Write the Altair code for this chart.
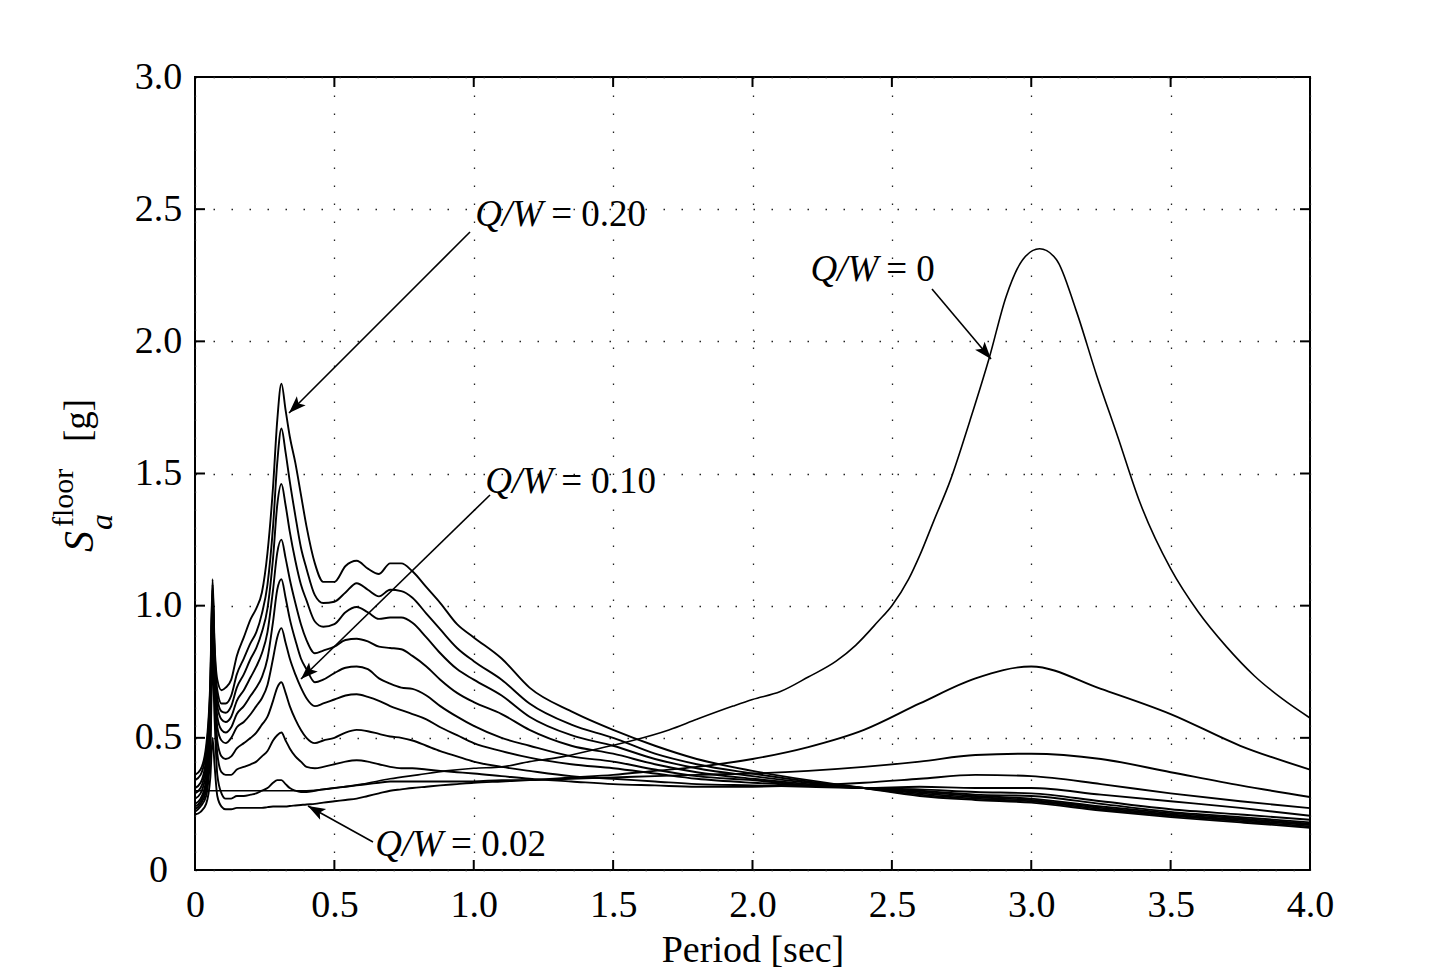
import math
import altair as alt
import pandas as pd

# ---------------- data ----------------
T = [0.0, 0.02, 0.04, 0.055, 0.063, 0.07, 0.08, 0.095, 0.11, 0.13, 0.15, 0.175, 0.2, 0.22,
     0.24, 0.26, 0.28, 0.295, 0.31, 0.325, 0.34, 0.36, 0.38, 0.40, 0.43, 0.46, 0.50, 0.54,
     0.58, 0.62, 0.66, 0.70, 0.74, 0.78, 0.83, 0.88, 0.94, 1.0, 1.1, 1.2, 1.35, 1.5, 1.65,
     1.8, 2.0, 2.2, 2.4, 2.6, 2.8, 3.0, 3.25, 3.5, 3.75, 4.0]

qw020 = [0.36, 0.38, 0.47, 0.72, 1.10, 0.86, 0.72, 0.68, 0.69, 0.72, 0.81, 0.88, 0.95, 0.99,
         1.05, 1.20, 1.45, 1.70, 1.84, 1.74, 1.64, 1.54, 1.42, 1.30, 1.16, 1.09, 1.09, 1.15,
         1.17, 1.14, 1.12, 1.16, 1.16, 1.13, 1.07, 1.01, 0.93, 0.88, 0.80, 0.69, 0.60, 0.53,
         0.47, 0.42, 0.375, 0.34, 0.31, 0.28, 0.265, 0.255, 0.225, 0.20, 0.18, 0.16]
qw018 = [0.34, 0.36, 0.45, 0.70, 1.08, 0.84, 0.68, 0.63, 0.63, 0.66, 0.74, 0.80, 0.86, 0.90,
         0.97, 1.08, 1.30, 1.54, 1.67, 1.58, 1.47, 1.34, 1.22, 1.14, 1.04, 1.01, 1.015, 1.05,
         1.085, 1.06, 1.035, 1.06, 1.055, 1.03, 0.97, 0.91, 0.84, 0.79, 0.72, 0.63, 0.55, 0.50,
         0.44, 0.40, 0.365, 0.335, 0.31, 0.285, 0.27, 0.26, 0.23, 0.205, 0.185, 0.165]
qw016 = [0.31, 0.33, 0.42, 0.68, 1.06, 0.82, 0.65, 0.60, 0.595, 0.62, 0.69, 0.74, 0.80, 0.84,
         0.90, 0.99, 1.18, 1.38, 1.46, 1.38, 1.28, 1.17, 1.08, 1.02, 0.94, 0.92, 0.93, 0.975,
         0.995, 0.975, 0.95, 0.955, 0.955, 0.935, 0.88, 0.82, 0.76, 0.72, 0.66, 0.58, 0.51, 0.47,
         0.42, 0.385, 0.355, 0.33, 0.31, 0.29, 0.275, 0.265, 0.235, 0.21, 0.19, 0.17]
qw014 = [0.29, 0.31, 0.40, 0.66, 1.04, 0.80, 0.62, 0.57, 0.56, 0.58, 0.64, 0.68, 0.73, 0.77,
         0.82, 0.90, 1.06, 1.20, 1.25, 1.18, 1.10, 1.01, 0.93, 0.87, 0.82, 0.83, 0.845, 0.87,
         0.875, 0.865, 0.845, 0.84, 0.835, 0.81, 0.77, 0.72, 0.67, 0.635, 0.59, 0.53, 0.47, 0.44,
         0.40, 0.37, 0.345, 0.325, 0.31, 0.295, 0.28, 0.27, 0.24, 0.215, 0.195, 0.175]
qw012 = [0.27, 0.29, 0.37, 0.62, 1.02, 0.78, 0.58, 0.53, 0.52, 0.54, 0.59, 0.62, 0.66, 0.69,
         0.73, 0.80, 0.94, 1.06, 1.10, 1.03, 0.95, 0.87, 0.80, 0.76, 0.71, 0.72, 0.745, 0.765,
         0.77, 0.76, 0.725, 0.705, 0.69, 0.685, 0.66, 0.62, 0.58, 0.545, 0.50, 0.47, 0.43, 0.41,
         0.38, 0.355, 0.34, 0.32, 0.31, 0.30, 0.285, 0.28, 0.25, 0.22, 0.20, 0.18]
qw010 = [0.25, 0.27, 0.34, 0.58, 0.98, 0.75, 0.54, 0.49, 0.48, 0.50, 0.54, 0.56, 0.59, 0.62,
         0.65, 0.70, 0.80, 0.88, 0.915, 0.86, 0.80, 0.74, 0.69, 0.65, 0.62, 0.63, 0.645, 0.66,
         0.665, 0.655, 0.64, 0.62, 0.605, 0.59, 0.57, 0.54, 0.51, 0.48, 0.45, 0.425, 0.40, 0.385,
         0.365, 0.345, 0.33, 0.32, 0.31, 0.305, 0.295, 0.29, 0.26, 0.23, 0.21, 0.19]
qw008 = [0.24, 0.26, 0.32, 0.55, 0.94, 0.71, 0.49, 0.43, 0.42, 0.43, 0.46, 0.48, 0.50, 0.52,
         0.55, 0.58, 0.64, 0.69, 0.71, 0.67, 0.62, 0.57, 0.53, 0.50, 0.48, 0.49, 0.50, 0.52,
         0.53, 0.525, 0.515, 0.505, 0.50, 0.49, 0.47, 0.45, 0.43, 0.41, 0.39, 0.375, 0.355, 0.345,
         0.335, 0.325, 0.32, 0.315, 0.31, 0.315, 0.31, 0.31, 0.285, 0.26, 0.235, 0.205]
qw006 = [0.23, 0.25, 0.30, 0.50, 0.88, 0.66, 0.44, 0.37, 0.36, 0.36, 0.38, 0.39, 0.40, 0.41,
         0.43, 0.45, 0.49, 0.51, 0.52, 0.49, 0.46, 0.43, 0.41, 0.39, 0.385, 0.39, 0.40, 0.41,
         0.415, 0.41, 0.40, 0.39, 0.385, 0.385, 0.38, 0.375, 0.37, 0.365, 0.355, 0.345, 0.335, 0.325,
         0.32, 0.315, 0.315, 0.32, 0.33, 0.345, 0.36, 0.355, 0.325, 0.29, 0.26, 0.234]
qw004 = [0.22, 0.24, 0.28, 0.45, 0.80, 0.58, 0.36, 0.29, 0.27, 0.27, 0.28, 0.28, 0.285, 0.29,
         0.30, 0.31, 0.33, 0.34, 0.34, 0.325, 0.31, 0.30, 0.295, 0.295, 0.30, 0.305, 0.31, 0.315,
         0.32, 0.325, 0.33, 0.335, 0.335, 0.335, 0.335, 0.335, 0.335, 0.335, 0.34, 0.34, 0.345, 0.35,
         0.355, 0.36, 0.365, 0.375, 0.39, 0.41, 0.435, 0.44, 0.42, 0.37, 0.32, 0.276]
qw002 = [0.21, 0.22, 0.25, 0.35, 0.50, 0.40, 0.28, 0.24, 0.23, 0.23, 0.235, 0.235, 0.235, 0.235,
         0.235, 0.238, 0.24, 0.24, 0.24, 0.24, 0.242, 0.244, 0.246, 0.248, 0.25, 0.255, 0.26, 0.265,
         0.27, 0.28, 0.29, 0.30, 0.305, 0.31, 0.315, 0.32, 0.325, 0.33, 0.335, 0.34, 0.35, 0.36,
         0.375, 0.39, 0.42, 0.465, 0.53, 0.63, 0.725, 0.77, 0.685, 0.59, 0.47, 0.38]

# Q/W = 0 curve (own period grid)
T0 = [0.0, 0.2, 0.4, 0.5, 0.6, 0.7, 0.8, 0.9, 1.0, 1.1, 1.2, 1.3, 1.45, 1.57, 1.7, 1.8, 1.93,
      2.0, 2.1, 2.2, 2.3, 2.37, 2.45, 2.5, 2.56, 2.6, 2.65, 2.71, 2.78, 2.85, 2.91, 2.97, 3.03,
      3.09, 3.16, 3.235, 3.31, 3.39, 3.5, 3.6, 3.7, 3.8, 3.9, 4.0]
qw000 = [0.30, 0.30, 0.30, 0.31, 0.325, 0.345, 0.36, 0.375, 0.385, 0.39, 0.41, 0.425, 0.46, 0.49,
         0.53, 0.57, 0.62, 0.645, 0.675, 0.73, 0.79, 0.85, 0.94, 1.0, 1.10, 1.19, 1.32, 1.475, 1.70,
         1.94, 2.17, 2.31, 2.35, 2.31, 2.12, 1.87, 1.64, 1.39, 1.14, 0.975, 0.845, 0.735, 0.648, 0.575]

x_ticks = [0, 0.5, 1.0, 1.5, 2.0, 2.5, 3.0, 3.5, 4.0]
y_ticks = [0, 0.5, 1.0, 1.5, 2.0, 2.5, 3.0]

# annotations: label value, arrow start (T, Sa), arrow tip (T, Sa), label anchor (T, Sa)
ann_value = ["= 0.20", "= 0.10", "= 0", "= 0.02"]
ann_x0 = [0.9865, 1.0583, 2.6439, 0.6386]
ann_y0 = [2.4137, 1.4187, 2.1980, 0.1059]
ann_x1 = [0.3372, 0.3803, 2.8556, 0.4054]
ann_y1 = [1.7289, 0.7226, 1.9332, 0.2421]
lab_x = [1.249, 1.285, 2.451, 0.890]
lab_y = [2.478, 1.468, 2.270, 0.0946]

# ---------------- layout ----------------
W, H = 1115, 793
XMAX, YMAX = 4.0, 3.0
FONT = "Liberation Serif"

rows = []
for name, vals in [("0.02", qw002), ("0.04", qw004), ("0.06", qw006), ("0.08", qw008),
                   ("0.10", qw010), ("0.12", qw012), ("0.14", qw014), ("0.16", qw016),
                   ("0.18", qw018), ("0.20", qw020)]:
    for t, v in zip(T, vals):
        rows.append({"qw": name, "T": t, "Sa": v})
df = pd.DataFrame(rows)
df0 = pd.DataFrame({"qw": "0", "T": T0, "Sa": qw000})

xs = alt.Scale(domain=[0, XMAX], nice=False, zero=False)
ys = alt.Scale(domain=[0, YMAX], nice=False, zero=False)

lab_expr = "datum.value == 0 ? '0' : format(datum.value, '.1f')"
x_axis = alt.Axis(values=x_ticks, labelExpr=lab_expr, labelFont=FONT, labelFontSize=38,
                  labelColor="black", labelPadding=16, labelFlush=False, ticks=False,
                  domain=False, grid=True, gridDash=[1.5, 16.5], gridColor="#222",
                  gridWidth=1.3, title="Period [sec]", titleFont=FONT, titleFontSize=38,
                  titleFontWeight="normal", titleColor="black", titlePadding=7)
y_axis = alt.Axis(values=y_ticks, labelExpr=lab_expr, labelFont=FONT, labelFontSize=38,
                  labelColor="black", labelPadding=37, labelAlign="center", ticks=False,
                  domain=False, grid=True, gridDash=[1.5, 16.5], gridColor="#222",
                  gridWidth=1.3, title=None)

curves = alt.Chart(df).mark_line(color="black", strokeWidth=1.9, interpolate="monotone").encode(
    x=alt.X("T:Q", scale=xs, axis=x_axis),
    y=alt.Y("Sa:Q", scale=ys, axis=y_axis),
    detail="qw:N",
)
curve0 = alt.Chart(df0).mark_line(color="black", strokeWidth=1.6, interpolate="monotone").encode(
    x=alt.X("T:Q", scale=xs), y=alt.Y("Sa:Q", scale=ys))

# inward ticks on all four sides
xt = pd.DataFrame({"v": x_ticks})
yt = pd.DataFrame({"v": y_ticks})
tick_len = 10
tb = alt.Chart(xt).mark_rule(color="black", strokeWidth=2).encode(
    x=alt.X("v:Q", scale=xs), y=alt.value(H), y2=alt.value(H - tick_len))
tt = alt.Chart(xt).mark_rule(color="black", strokeWidth=2).encode(
    x=alt.X("v:Q", scale=xs), y=alt.value(0), y2=alt.value(tick_len))
tl = alt.Chart(yt).mark_rule(color="black", strokeWidth=2).encode(
    y=alt.Y("v:Q", scale=ys), x=alt.value(0), x2=alt.value(tick_len))
tr = alt.Chart(yt).mark_rule(color="black", strokeWidth=2).encode(
    y=alt.Y("v:Q", scale=ys), x=alt.value(W), x2=alt.value(W - tick_len))

# annotation arrows
ang = []
for a, b, c, d in zip(ann_x0, ann_y0, ann_x1, ann_y1):
    dx = (c - a) * W / XMAX
    dy = -(d - b) * H / YMAX
    ang.append((math.degrees(math.atan2(dy, dx)) + 360) % 360)
adf = pd.DataFrame({"x0": ann_x0, "y0": ann_y0, "x1": ann_x1, "y1": ann_y1, "ang": ang,
                    "lx": lab_x, "ly": lab_y, "val": ann_value, "q": ["Q/W"] * 4})
shafts = alt.Chart(adf).mark_rule(color="black", strokeWidth=1.6).encode(
    x=alt.X("x0:Q", scale=xs), y=alt.Y("y0:Q", scale=ys), x2="x1:Q", y2="y1:Q")
heads = alt.Chart(adf).mark_point(
    shape="M0,0 L-1,-0.36 L-0.78,0 L-1,0.36 Z", filled=True, color="black", opacity=1,
    size=1200, strokeWidth=0).encode(
    x=alt.X("x1:Q", scale=xs), y=alt.Y("y1:Q", scale=ys), angle=alt.Angle("ang:Q", scale=None))
lab_q = alt.Chart(adf).mark_text(font=FONT, fontSize=37, fontStyle="italic", align="right",
                                 baseline="middle", color="black").encode(
    x=alt.X("lx:Q", scale=xs), y=alt.Y("ly:Q", scale=ys), text="q:N")
lab_v = alt.Chart(adf).mark_text(font=FONT, fontSize=37, align="left", baseline="middle",
                                 color="black", dx=8).encode(
    x=alt.X("lx:Q", scale=xs), y=alt.Y("ly:Q", scale=ys), text="val:N")

# y-axis title pieces: S (italic), subscript a, superscript floor, [g]
def ytxt(s, px, py, size, style="normal"):
    return alt.Chart(pd.DataFrame({"t": [s]})).mark_text(
        font=FONT, fontSize=size, fontStyle=style, angle=270, align="left",
        baseline="alphabetic", color="black").encode(
        text="t:N", x=alt.value(px), y=alt.value(py))

yt_S = ytxt("S", -102, 475, 42, "italic")
yt_a = ytxt("a", -83, 453, 32, "italic")
yt_f = ytxt("floor", -122, 450, 30)
yt_g = ytxt("[g]", -105, 365, 37)

chart = alt.layer(curves, curve0, tb, tt, tl, tr, shafts, heads, lab_q, lab_v,
                  yt_S, yt_a, yt_f, yt_g).properties(
    width=W, height=H,
    autosize=alt.AutoSizeParams(type="none"),
    padding={"left": 187, "top": 69, "right": 110, "bottom": 101},
    background="white",
).configure_view(stroke="black", strokeWidth=2)

chart.save("out.html", embed_options={"renderer": "svg", "actions": False})
